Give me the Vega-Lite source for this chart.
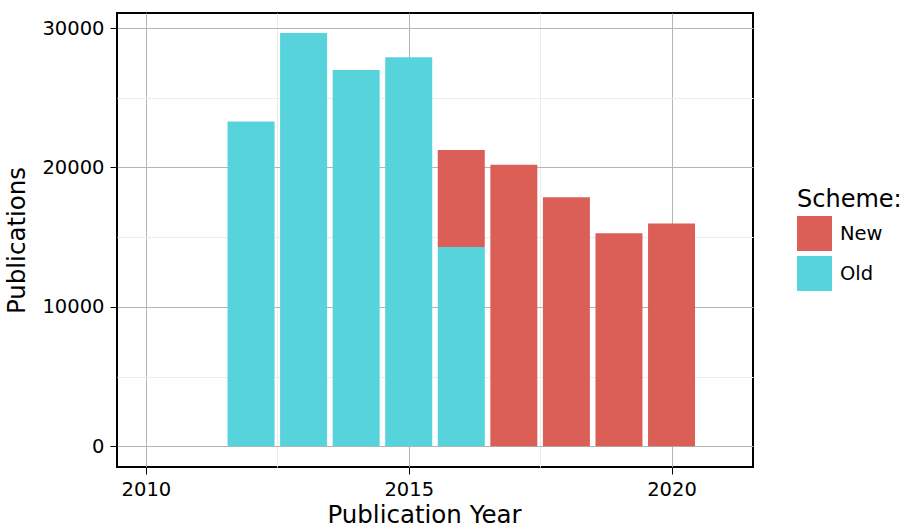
{
  "$schema": "https://vega.github.io/schema/vega-lite/v6.json",
  "width": 636,
  "height": 454,
  "autosize": "none",
  "padding": {"left": 117, "top": 13, "right": 154, "bottom": 62},
  "background": "white",
  "config": {
    "font": "DejaVu Sans",
    "view": {"stroke": "black", "strokeWidth": 2},
    "axis": {
      "domain": false,
      "labelFontSize": 19.5,
      "labelColor": "black",
      "titleFontSize": 24.5,
      "titleFontWeight": "normal",
      "titleColor": "black",
      "tickColor": "black",
      "tickSize": 7,
      "tickWidth": 1,
      "gridWidth": 1
    }
  },
  "data": {
    "values": [
      {"Year": 2012, "Scheme": "Old", "Publications": 23300},
      {"Year": 2013, "Scheme": "Old", "Publications": 29640},
      {"Year": 2014, "Scheme": "Old", "Publications": 27000},
      {"Year": 2015, "Scheme": "Old", "Publications": 27900},
      {"Year": 2016, "Scheme": "Old", "Publications": 14300},
      {"Year": 2016, "Scheme": "New", "Publications": 6960},
      {"Year": 2017, "Scheme": "New", "Publications": 20190},
      {"Year": 2018, "Scheme": "New", "Publications": 17860},
      {"Year": 2019, "Scheme": "New", "Publications": 15290},
      {"Year": 2020, "Scheme": "New", "Publications": 15980}
    ]
  },
  "mark": {"type": "bar", "size": 47},
  "encoding": {
    "x": {
      "field": "Year",
      "type": "quantitative",
      "title": "Publication Year",
      "scale": {"domain": [2009.45, 2021.55], "nice": false, "zero": false, "padding": 0},
      "axis": {
        "values": [2010, 2012.5, 2015, 2017.5, 2020],
        "format": "d",
        "labelExpr": "datum.value % 5 === 0 ? datum.label : ''",
        "gridColor": {"condition": {"test": "datum.value % 5 === 0", "value": "#b5b5b5"}, "value": "#ececec"},
        "tickOpacity": {"condition": {"test": "datum.value % 5 === 0", "value": 1}, "value": 0},
        "labelPadding": 6,
        "titlePadding": 5,
        "titleX": 307
      }
    },
    "y": {
      "field": "Publications",
      "type": "quantitative",
      "title": "Publications",
      "stack": "zero",
      "scale": {"domain": [-1480, 31080], "nice": false, "zero": false, "padding": 0},
      "axis": {
        "values": [0, 5000, 10000, 15000, 20000, 25000, 30000],
        "format": "d",
        "labelExpr": "datum.value % 10000 === 0 ? datum.label : ''",
        "gridColor": {"condition": {"test": "datum.value % 10000 === 0", "value": "#b5b5b5"}, "value": "#ececec"},
        "tickOpacity": {"condition": {"test": "datum.value % 10000 === 0", "value": 1}, "value": 0},
        "labelPadding": 6,
        "titlePadding": 12
      }
    },
    "color": {
      "field": "Scheme",
      "type": "nominal",
      "title": "Scheme:",
      "scale": {"domain": ["New", "Old"], "range": ["#db5f57", "#57d3db"]},
      "legend": {
        "orient": "none",
        "legendX": 680,
        "legendY": 175,
        "symbolType": "square",
        "symbolSize": 1225,
        "symbolStrokeWidth": 0,
        "symbolOpacity": 1,
        "titleFontSize": 24,
        "titleFontWeight": "normal",
        "titleColor": "black",
        "labelFontSize": 19.5,
        "labelColor": "black",
        "labelOffset": 8,
        "rowPadding": 5,
        "titlePadding": 4
      }
    },
    "order": {"field": "Scheme", "sort": "descending"}
  }
}
